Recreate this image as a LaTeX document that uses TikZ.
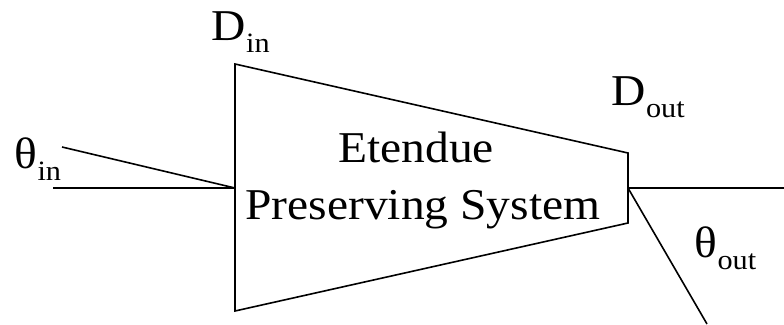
\documentclass[tikz,border=0pt]{standalone}
\usepackage{fontspec}
\setmainfont[FakeStretch=1.08]{Liberation Serif}
\usepackage{tikz}

\newcommand{\bigtext}{\fontsize{44}{57}\selectfont}
\newcommand{\sub}[1]{\raisebox{-12pt}{\fontsize{28}{28}\selectfont #1}}

\begin{document}
\begin{tikzpicture}[x=1pt, y=-1pt, line width=1.6pt,
  lbl/.style={inner sep=0pt, anchor=base west, font=\bigtext},
  sysline/.style={inner sep=0pt, anchor=base, font=\bigtext}]
  \useasboundingbox (0,0) rectangle (784,324);
  % corners of the system
  \coordinate (tl) at (235,64);  \coordinate (bl) at (235,311);
  \coordinate (tr) at (628,153); \coordinate (br) at (628,223);
  \coordinate (inpt) at (235,188); \coordinate (outpt) at (628,188);
  % free ends of the rays
  \coordinate (inaxis) at (53,188);  \coordinate (inray) at (62,147);
  \coordinate (outaxis) at (784,188); \coordinate (outray) at (707,324);

  \draw (tl) -- (tr) -- (br) -- (bl) -- cycle;
  \node[sysline] (etendue) at (416,162) {Etendue};
  \node[sysline] (preserving) at (423,219) {Preserving System};

  \draw (inaxis) -- (inpt);
  \draw (inray) -- (inpt);
  \draw (outpt) -- (outaxis);
  \draw (outpt) -- (outray);

  \node[lbl] (din) at (211,40) {D\sub{in}};
  \node[lbl] (dout) at (611,105) {D\sub{out}};
  \node[lbl] (thin) at (14,168) {θ\sub{in}};
  \node[lbl] (thout) at (694,257) {θ\sub{out}};
\end{tikzpicture}
\end{document}
